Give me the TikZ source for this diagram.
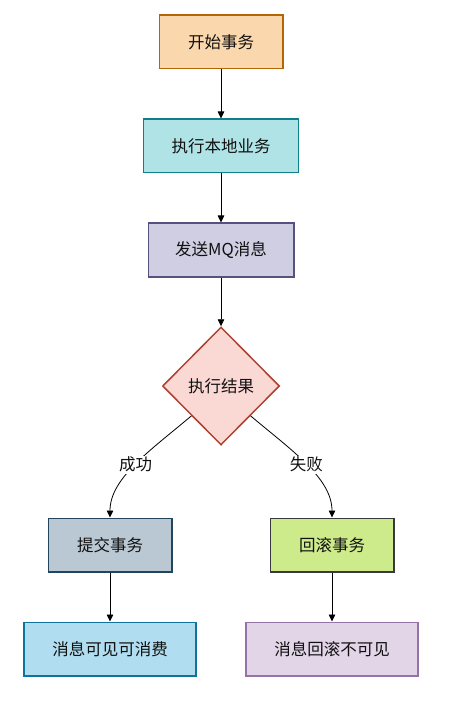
\documentclass[tikz,border=0pt]{standalone}
\usepackage{fontspec}
\newfontfamily\cjk{Noto Sans CJK SC}
\usetikzlibrary{shapes.geometric,arrows.meta}
\definecolor{f1}{HTML}{FAD7AC}\definecolor{b1}{HTML}{B46504}
\definecolor{f2}{HTML}{B0E3E6}\definecolor{b2}{HTML}{0E8088}
\definecolor{f3}{HTML}{D0CEE2}\definecolor{b3}{HTML}{56517E}
\definecolor{fd}{HTML}{FAD9D5}\definecolor{bd}{HTML}{AE4132}
\definecolor{fc}{HTML}{BAC8D3}\definecolor{bc}{HTML}{23445D}
\definecolor{fr}{HTML}{CDEB8B}\definecolor{br}{HTML}{36393D}
\definecolor{fl}{HTML}{B1DDF0}\definecolor{bl}{HTML}{10739E}
\definecolor{fm}{HTML}{E1D5E7}\definecolor{bm}{HTML}{9673A6}
\definecolor{txt}{HTML}{111111}
\tikzset{
  base/.style={font=\cjk\fontsize{16.5}{19}\selectfont, text=txt, line width=1.5pt, inner sep=0pt},
  box/.style={base, rectangle, draw, minimum height=53.5pt},
  conn/.style={line width=0.8pt, black, -{Triangle[width=6.5pt,length=7pt]}},
  lbl/.style={font=\cjk\fontsize{16.5}{19}\selectfont, text=txt, fill=white, inner sep=1.5pt}
}
\begin{document}
\begin{tikzpicture}[x=1pt,y=-1pt]
\useasboundingbox (0,0) rectangle (454,708);
\node[box, fill=f1, draw=b1, minimum width=123.5pt] (start) at (221,42) {开始事务};
\node[box, fill=f2, draw=b2, minimum width=155pt] (local) at (221,146) {执行本地业务};
\node[box, fill=f3, draw=b3, minimum width=145.5pt] (send) at (221,250) {发送MQ消息};
\node[base, diamond, draw=bd, fill=fd, minimum width=117pt, minimum height=118pt] (res) at (221,386) {执行结果};
\node[box, fill=fc, draw=bc, minimum width=123.5pt] (commit) at (110,545) {提交事务};
\node[box, fill=fr, draw=br, minimum width=123.5pt] (roll) at (332,545) {回滚事务};
\node[box, fill=fl, draw=bl, minimum width=172pt] (vis) at (110,649) {消息可见可消费};
\node[box, fill=fm, draw=bm, minimum width=172pt] (inv) at (332,649) {消息回滚不可见};
\draw[conn] (start) -- (local);
\draw[conn] (local) -- (send);
\draw[conn] (send) -- (res);
\draw[conn] (res.south west) .. controls (151,450) and (110,478) .. (commit.north) node[lbl, pos=0.5] {成功};
\draw[conn] (res.south east) .. controls (291,450) and (332,478) .. (roll.north) node[lbl, pos=0.5] {失败};
\draw[conn] (commit) -- (vis);
\draw[conn] (roll) -- (inv);
\end{tikzpicture}
\end{document}
